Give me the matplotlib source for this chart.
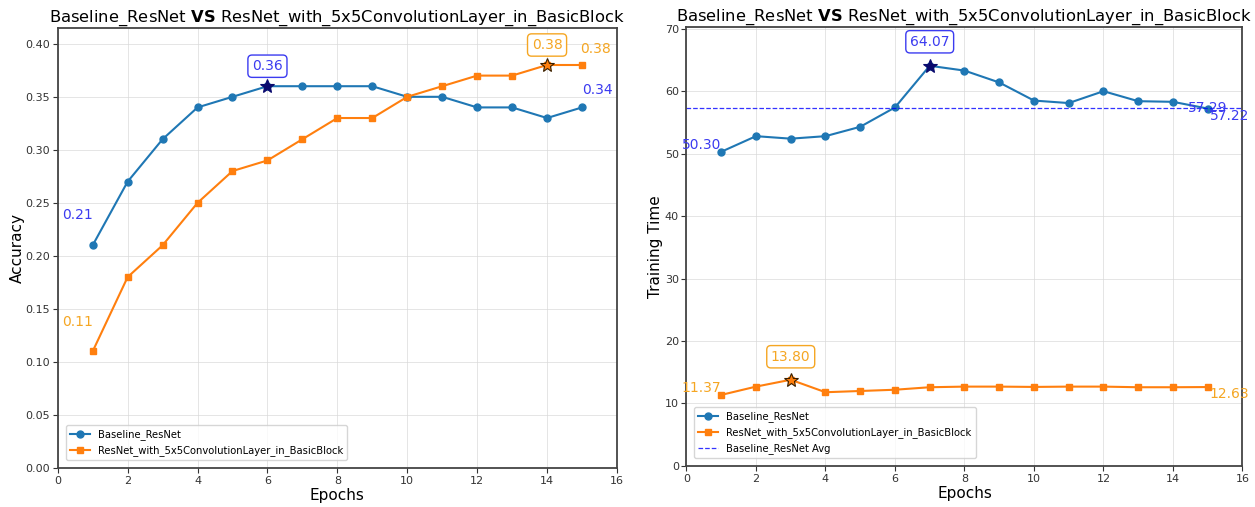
import numpy as np
import matplotlib
matplotlib.use("Agg")
import matplotlib.pyplot as plt

epochs = list(range(1, 16))
acc_base = [0.21, 0.27, 0.31, 0.34, 0.35, 0.36, 0.36, 0.36, 0.36, 0.35, 0.35, 0.34, 0.34, 0.33, 0.34]
acc_5x5 = [0.11, 0.18, 0.21, 0.25, 0.28, 0.29, 0.31, 0.33, 0.33, 0.35, 0.36, 0.37, 0.37, 0.38, 0.38]
time_base = [50.30, 52.8, 52.4, 52.8, 54.3, 57.4, 64.07, 63.3, 61.4, 58.5, 58.1, 60.0, 58.4, 58.3, 57.22]
time_5x5 = [11.37, 12.7, 13.80, 11.8, 12.0, 12.2, 12.6, 12.7, 12.7, 12.65, 12.7, 12.7, 12.6, 12.6, 12.63]

name_base = "Baseline_ResNet"
name_5x5 = "ResNet_with_5x5ConvolutionLayer_in_BasicBlock"
title = r"Baseline_ResNet $\bf{VS}$ ResNet_with_5x5ConvolutionLayer_in_BasicBlock"

C_BASE = "#1f77b4"
C_5X5 = "#ff7f0e"
T_BASE = "#3b3bf0"
T_5X5 = "#f5a623"

fig = plt.figure(figsize=(12.55, 5.07), dpi=100)
ax1 = fig.add_axes([0.046, 0.077, 0.4456, 0.868])
ax2 = fig.add_axes([0.547, 0.081, 0.443, 0.866])


def style(ax):
    ax.grid(True, color="#d9d9d9", linewidth=0.7, alpha=0.7)
    ax.set_axisbelow(True)
    for s in ax.spines.values():
        s.set_color("#444444")
        s.set_linewidth(1.3)
    ax.tick_params(labelsize=8, colors="#333333", pad=2)
    ax.set_xlim(0, 16)
    ax.set_xticks(range(0, 17, 2))
    ax.set_title(title, fontsize=11.8, pad=4)
    ax.set_xlabel("Epochs", fontsize=11, labelpad=2)


def annotate_series(ax, x, y, tcolor, fmt, first_off, last_off, first_align, last_align, maxoff, star_face, star_edge):
    i = int(np.argmax(y))
    ax.plot(x[i], y[i], marker="*", markersize=10, markerfacecolor=star_face,
            markeredgecolor=star_edge, markeredgewidth=0.8, zorder=5)
    ax.annotate(fmt.format(y[i]), (x[i], y[i]), xytext=(0, maxoff), textcoords="offset pixels",
                ha="center", va="center", color=tcolor, fontsize=10,
                bbox=dict(boxstyle="round,pad=0.3", fc="white", ec=tcolor, lw=1))
    ax.annotate(fmt.format(y[0]), (x[0], y[0]), xytext=first_off, textcoords="offset pixels",
                ha=first_align[0], va=first_align[1], color=tcolor, fontsize=10)
    ax.annotate(fmt.format(y[-1]), (x[-1], y[-1]), xytext=last_off, textcoords="offset pixels",
                ha=last_align[0], va=last_align[1], color=tcolor, fontsize=10)


# Accuracy
style(ax1)
ax1.plot(epochs, acc_base, "-o", color=C_BASE, markersize=5, linewidth=1.5, label=name_base)
ax1.plot(epochs, acc_5x5, "-s", color=C_5X5, markersize=5, linewidth=1.5, label=name_5x5)
ax1.set_ylim(0, 0.415)
ax1.set_yticks(np.arange(0, 0.41, 0.05))
ax1.yaxis.set_major_formatter(matplotlib.ticker.FormatStrFormatter("%.2f"))
ax1.set_ylabel("Accuracy", fontsize=11, labelpad=0)
annotate_series(ax1, epochs, acc_base, T_BASE, "{:.2f}", (0, 30), (0, 17), ("right", "center"), ("left", "center"), 20, "#0a0a6e", "#0a0a6e")
annotate_series(ax1, epochs, acc_5x5, T_5X5, "{:.2f}", (0, 29), (-2, 16), ("right", "center"), ("left", "center"), 20, C_5X5, "#3a2000")
ax1.legend(loc="lower left", fontsize=7.2, borderaxespad=0.8)

# Training time
style(ax2)
ax2.plot(epochs, time_base, "-o", color=C_BASE, markersize=5, linewidth=1.5, label=name_base)
ax2.plot(epochs, time_5x5, "-s", color=C_5X5, markersize=5, linewidth=1.5, label=name_5x5)
avg = float(np.mean(time_base))
ax2.axhline(avg, color="blue", linestyle="--", linewidth=0.9, alpha=0.8, label=name_base + " Avg")
ax2.text(epochs[-1], avg, f"{avg:.2f}", color=T_BASE, fontsize=10, ha="center", va="center")
ax2.set_ylim(0, 70.3)
ax2.set_yticks(range(0, 71, 10))
ax2.set_ylabel("Training Time", fontsize=11, labelpad=1)
annotate_series(ax2, epochs, time_base, T_BASE, "{:.2f}", (0, 0), (2, 0), ("right", "bottom"), ("left", "top"), 24, "#0a0a6e", "#0a0a6e")
annotate_series(ax2, epochs, time_5x5, T_5X5, "{:.2f}", (0, 0), (2, 0), ("right", "bottom"), ("left", "top"), 23, C_5X5, "#3a2000")
ax2.legend(loc="lower left", fontsize=7.2, borderaxespad=0.8)

fig.savefig("out.png", dpi=100, facecolor="white")
